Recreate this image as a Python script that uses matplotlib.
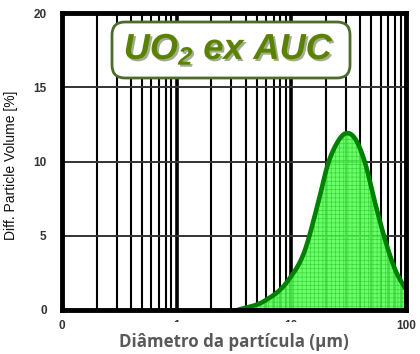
import matplotlib
matplotlib.use("Agg")
import matplotlib.pyplot as plt
import matplotlib.patheffects as pe
from matplotlib.patches import FancyBboxPatch
import numpy as np

# particle size distribution (diameter in µm, differential volume in %)
diameter_um = [3.4, 5.8, 9.4, 13.1, 17.1, 21.0, 24.8, 29.9, 35.9, 44.0, 53.8, 65.9, 80.6, 98.6]
volume_pct = [0.0, 0.6, 2.0, 4.0, 7.2, 9.9, 11.2, 11.9, 11.55, 9.9, 7.2, 4.7, 2.7, 1.45]

x_ticks = [0.1, 1, 10, 100]
x_tick_labels = ["0", "1", "10", "100"]
y_ticks = [0, 5, 10, 15, 20]

title_text = "UO$_2$ ex AUC"
x_label = "Diâmetro da partícula (µm)"
y_label = "Diff. Particle Volume [%]"

plt.rcParams["mathtext.fontset"] = "custom"
for k in ("rm", "it", "bf", "sf"):
    plt.rcParams["mathtext." + k] = "Liberation Sans:bold:italic"

fig = plt.figure(figsize=(4.2, 3.54), dpi=100)
ax = fig.add_axes([62 / 420, 1 - 310 / 354, 344 / 420, 297 / 354])

ax.set_xscale("log")
ax.set_xlim(0.1, 100)
ax.set_ylim(0, 20)

# vertical log grid
for dec in (0.1, 1, 10):
    for m in range(1, 10):
        v = dec * m
        if v <= 0.1 or v >= 100:
            continue
        ax.axvline(v, color="black", lw=2.6 if m == 1 else 1.5, zorder=1)
for yv in (5, 10, 15):
    ax.axhline(yv, color="#333333", lw=1.4, zorder=1)


def hermite(xs, ys, xq):
    """Smooth cubic Hermite curve through the points (log-x space)."""
    xs = np.asarray(xs)
    ys = np.asarray(ys)
    out = np.empty_like(xq)
    m = np.gradient(ys, xs)
    for i, q in enumerate(xq):
        j = np.clip(np.searchsorted(xs, q) - 1, 0, len(xs) - 2)
        h = xs[j + 1] - xs[j]
        t = (q - xs[j]) / h
        h00 = 2 * t**3 - 3 * t**2 + 1
        h10 = t**3 - 2 * t**2 + t
        h01 = -2 * t**3 + 3 * t**2
        h11 = t**3 - t**2
        out[i] = h00 * ys[j] + h10 * h * m[j] + h01 * ys[j + 1] + h11 * h * m[j + 1]
    return np.clip(out, 0, None)


lx = np.log10(diameter_um)
fine = np.linspace(lx[0], lx[-1], 300)
fy = hermite(lx, volume_pct, fine)
fx = 10 ** fine

plt.rcParams["hatch.color"] = "#33cc33"
plt.rcParams["hatch.linewidth"] = 0.45
ax.fill_between(fx, 0, fy, facecolor="#55ff55", alpha=0.88, hatch="++++",
                edgecolor="#33cc33", linewidth=0, zorder=2)
ax.plot(fx, fy, color="#008000", lw=3.3, zorder=3, solid_capstyle="round")

for side in ("left", "bottom", "top", "right"):
    ax.spines[side].set_linewidth(3.5)
    ax.spines[side].set_color("black")
    ax.spines[side].set_zorder(4)

ax.set_xticks(x_ticks)
ax.set_xticklabels(x_tick_labels)
ax.xaxis.set_minor_locator(matplotlib.ticker.NullLocator())
ax.set_yticks(y_ticks)
ax.tick_params(axis="y", length=0, labelsize=8.5, labelcolor="#333333", pad=11)
ax.tick_params(axis="x", length=0, labelsize=8.5, labelcolor="#333333", pad=7)
for lbl in ax.get_yticklabels() + ax.get_xticklabels():
    lbl.set_family("Liberation Sans")
    lbl.set_fontweight("bold")

ax.set_xlabel(x_label, fontsize=12.2, fontweight="bold", color="#595959",
              family="Open Sans", labelpad=1,
              bbox=dict(facecolor="white", edgecolor="none", pad=8))

fig.text(11 / 420, 1 - 165 / 354, y_label, rotation=90, ha="center", va="center",
         fontsize=10, family=["Liberation Sans Narrow", "Liberation Sans"], color="#111111")

box = FancyBboxPatch((1.12, 2.76), 2.38, 0.56,
                     boxstyle="round,pad=0,rounding_size=0.13",
                     transform=fig.dpi_scale_trans, facecolor="white",
                     edgecolor="#4d6b2e", linewidth=2, zorder=5)
fig.patches.append(box)
fig.text(2.29, 3.05, title_text, transform=fig.dpi_scale_trans, ha="center", va="center",
         fontsize=26, family="Liberation Sans", fontweight="bold", fontstyle="italic",
         color="#5a8200", zorder=6,
         path_effects=[pe.withSimplePatchShadow(offset=(1.5, -1.5),
                                                shadow_rgbFace="#2f4a05", alpha=0.45)])

fig.savefig("out.png", dpi=100, facecolor="white")
